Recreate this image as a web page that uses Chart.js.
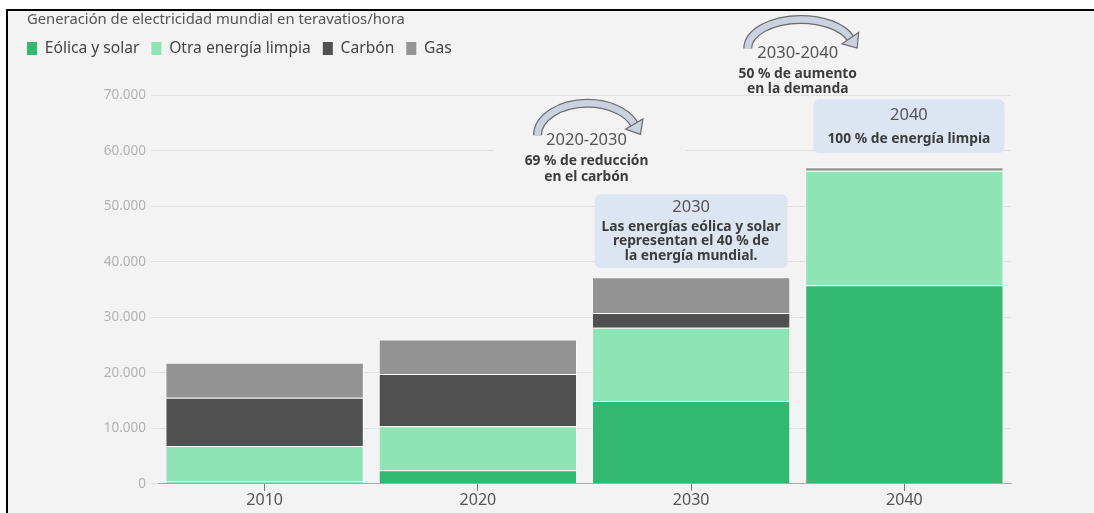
<!DOCTYPE html>
<html>
<head>
<meta charset="utf-8">
<script src="https://cdn.jsdelivr.net/npm/chart.js@4.4.1/dist/chart.umd.min.js"></script>
<style>
  html, body { margin: 0; padding: 0; background: #fff; }
  #frame { position: absolute; left: 6px; top: 9px; width: 1088px; height: 504px; box-sizing: border-box;
           border-top: 2px solid #000; border-left: 2px solid #000; background: #f3f3f3; }
  #wrap { position: absolute; left: 0; top: 0; width: 1086px; height: 502px; }
</style>
</head>
<body>
<div id="frame"><div id="wrap"><canvas id="c"></canvas></div></div>
<script>
// data (teravatios/hora)
const years = ['2010', '2020', '2030', '2040'];
const eolicaSolar = [400, 2450, 14900, 35800];
const otraLimpia = [6400, 7900, 13200, 20600];
const carbon = [8700, 9450, 2700, 0];
const gas = [6300, 6200, 6400, 650];
const yMax = 70000;
const yStep = 10000;

// annotation texts
const note1 = ['2020-2030', '69 % de reducción', 'en el carbón'];
const note2 = ['2030-2040', '50 % de aumento', 'en la demanda'];
const box1 = ['2030', 'Las energías eólica y solar', 'representan el 40 % de', 'la energía mundial.'];
const box2 = ['2040', '100 % de energía limpia'];

const FONT = '"Noto Sans", "Open Sans", sans-serif';
const BG = '#f3f3f3';

function arrow(ctx, cx, cy, rx, ry, endCut) {
  const a0 = Math.PI, a1 = 2 * Math.PI - endCut;
  ctx.save();
  ctx.lineCap = 'butt';
  ctx.beginPath();
  ctx.ellipse(cx, cy, rx, ry, 0, a0, a1);
  ctx.strokeStyle = '#6c6c6c';
  ctx.lineWidth = 9;
  ctx.stroke();
  ctx.beginPath();
  ctx.ellipse(cx, cy, rx, ry, 0, a0 - 0.02, a1 + 0.02);
  ctx.strokeStyle = '#c9d2de';
  ctx.lineWidth = 6.5;
  ctx.stroke();
  // head
  const ex = cx + rx * Math.cos(a1), ey = cy + ry * Math.sin(a1);
  let dx = -rx * Math.sin(a1), dy = ry * Math.cos(a1);
  const len = Math.hypot(dx, dy); dx /= len; dy /= len;
  const px = -dy, py = dx;
  ctx.beginPath();
  ctx.moveTo(ex + px * 10, ey + py * 10);
  ctx.lineTo(ex + dx * 12, ey + dy * 12);
  ctx.lineTo(ex - px * 10, ey - py * 10);
  ctx.closePath();
  ctx.fillStyle = '#c9d2de';
  ctx.fill();
  ctx.strokeStyle = '#6c6c6c';
  ctx.lineWidth = 1.2;
  ctx.stroke();
  ctx.restore();
}

function lines(ctx, x, y, texts, gap) {
  ctx.textAlign = 'center';
  ctx.textBaseline = 'middle';
  ctx.fillStyle = '#555';
  ctx.font = '16.5px ' + FONT;
  ctx.fillText(texts[0], x, y);
  ctx.fillStyle = '#3c3c3c';
  ctx.font = 'bold 13.8px ' + FONT;
  for (let i = 1; i < texts.length; i++) ctx.fillText(texts[i], x, y + gap[i - 1]);
}

const notesPlugin = {
  id: 'notes',
  afterLayout(chart) {
    chart.titleBlock.left += 12;
    chart.titleBlock.right += 12;
  },
  beforeLayout(chart) {
    const lg = chart.legend;
    if (lg && !lg._tall) {
      const fit = lg.fit.bind(lg);
      lg.fit = function () { fit(); this.height += 29; };
      lg._tall = true;
    }
  },
  afterDatasetsDraw(chart) {
    const ctx = chart.ctx;
    const x = chart.scales.x, y = chart.scales.y;
    ctx.save();

    // 2020-2030
    let cx = (x.getPixelForValue(1) + x.getPixelForValue(2)) / 2 + 2;
    let cy = y.getPixelForValue(61900);
    ctx.fillStyle = BG;
    ctx.fillRect(cx - 93, cy - 12, 192, 58);
    arrow(ctx, cx + 1, cy - 5, 50, 32, 0.36);
    lines(ctx, cx, cy, note1, [21, 37]);

    // 2030-2040
    cx = (x.getPixelForValue(2) + x.getPixelForValue(3)) / 2;
    cy = y.getPixelForValue(77560);
    arrow(ctx, cx + 3, cy - 5, 53, 29, 0.36);
    lines(ctx, cx, cy, note2, [21, 36]);

    // box 2030
    let bx = x.getPixelForValue(2);
    let top = y.getPixelForValue(52190), bot = y.getPixelForValue(38870);
    ctx.fillStyle = '#dde5f2';
    ctx.beginPath();
    ctx.roundRect(bx - 96.5, top, 193, bot - top, 6);
    ctx.fill();
    lines(ctx, bx, top + 13, box1, [20, 34, 49]);

    // box 2040
    bx = x.getPixelForValue(3) + 4.5;
    top = y.getPixelForValue(69280); bot = y.getPixelForValue(59560);
    ctx.fillStyle = '#dde5f2';
    ctx.beginPath();
    ctx.roundRect(bx - 95.5, top, 191, bot - top, 6);
    ctx.fill();
    lines(ctx, bx, top + 16, box2, [24]);

    ctx.restore();
  }
};

const stroke = 'rgba(255,255,255,0.7)';
const ds = (label, data, color) => ({
  label, data, backgroundColor: color, borderColor: stroke, borderWidth: 1,
  barPercentage: 0.93, categoryPercentage: 1
});

new Chart(document.getElementById('c'), {
  type: 'bar',
  data: {
    labels: years,
    datasets: [
      ds('Eólica y solar', eolicaSolar, '#33b872'),
      ds('Otra energía limpia', otraLimpia, '#8fe4b5'),
      ds('Carbón', carbon, '#505050'),
      ds('Gas', gas, '#939393')
    ]
  },
  options: {
    responsive: true,
    maintainAspectRatio: false,
    animation: false,
    layout: { padding: { left: 7, right: 83, top: 0, bottom: 3 } },
    plugins: {
      title: {
        display: true,
        text: 'Generación de electricidad mundial en teravatios/hora',
        align: 'start',
        color: '#555',
        font: { family: FONT, size: 14.8, weight: 'normal' },
        padding: { top: 0, bottom: 0 }
      },
      legend: {
        align: 'start',
        labels: {
          boxWidth: 10,
          boxHeight: 13,
          padding: 12,
          color: '#444',
          font: { family: FONT, size: 15.6 },
          generateLabels(chart) {
            return Chart.defaults.plugins.legend.labels.generateLabels(chart)
              .map(l => ({ ...l, lineWidth: 0, strokeStyle: 'rgba(0,0,0,0)' }));
          }
        }
      },
      tooltip: { enabled: false }
    },
    scales: {
      x: {
        stacked: true,
        grid: { drawOnChartArea: false, offset: false, tickLength: 7, color: '#777' },
        border: { color: '#aaa' },
        ticks: { color: '#555', padding: 0, font: { family: FONT, size: 16 } }
      },
      y: {
        stacked: true,
        min: 0,
        max: yMax,
        afterFit(s) { s.width = 143; },
        border: { display: false },
        grid: { color: '#e0e0e0', tickLength: 7 },
        ticks: {
          stepSize: yStep,
          padding: 5,
          color: '#b3b3b3',
          font: { family: FONT, size: 13.5 },
          callback: v => String(v).replace(/\B(?=(\d{3})+(?!\d))/g, '.')
        }
      }
    }
  },
  plugins: [notesPlugin]
});
</script>
</body>
</html>
